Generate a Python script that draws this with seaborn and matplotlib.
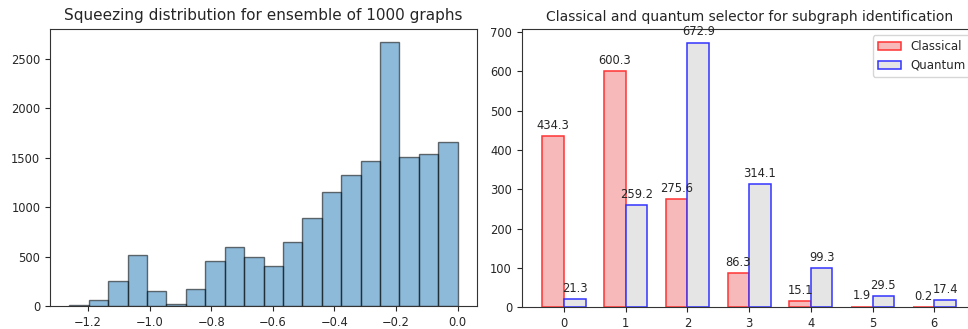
import numpy as np
import pandas as pd
import matplotlib
matplotlib.use("Agg")
import matplotlib.pyplot as plt
import seaborn as sns

# Left: histogram of squeezing values (bin edges and counts)
bin_edges = list(np.linspace(-1.26, 0.0, 21))
bin_counts = [10, 61, 253, 513, 149, 24, 176, 459, 601, 500,
              409, 642, 888, 1149, 1328, 1470, 2669, 1507, 1534, 1662]

# Right: grouped bars
categories = [0, 1, 2, 3, 4, 5, 6]
classical = [434.3, 600.3, 275.6, 86.3, 15.1, 1.9, 0.2]
quantum = [21.3, 259.2, 672.9, 314.1, 99.3, 29.5, 17.4]

sns.set_style("ticks")
plt.rcParams['font.family'] = ['DejaVu Sans']

fig = plt.figure(figsize=(9.68, 3.29), dpi=100)
ax1 = fig.add_axes([0.0517, 0.0699, 0.4411, 0.8429])
ax2 = fig.add_axes([0.539, 0.066, 0.4698, 0.845])

centers = [(bin_edges[i] + bin_edges[i + 1]) / 2 for i in range(len(bin_counts))]
hdf = pd.DataFrame({"x": centers, "w": bin_counts})
sns.histplot(data=hdf, x="x", weights="w", bins=bin_edges, ax=ax1,
             color="#1f77b4", alpha=0.5, edgecolor=(0, 0, 0, 0.55), linewidth=1.0)
ax1.set_xlabel("")
ax1.set_ylabel("")
ax1.set_title("Squeezing distribution for ensemble of 1000 graphs", fontsize=11)
ax1.set_xlim(-1.323, 0.063)
ax1.set_ylim(0, max(bin_counts) * 1.05)
ax1.set_xticks([-1.2, -1.0, -0.8, -0.6, -0.4, -0.2, 0.0])
ax1.set_xticklabels(["\u22121.2", "\u22121.0", "\u22120.8", "\u22120.6", "\u22120.4", "\u22120.2", "0.0"])
ax1.set_yticks([0, 500, 1000, 1500, 2000, 2500])
ax1.tick_params(labelsize=8.3)

bdf = pd.DataFrame({
    "cat": categories * 2,
    "val": classical + quantum,
    "kind": ["Classical"] * len(categories) + ["Quantum"] * len(categories),
})
sns.barplot(data=bdf, x="cat", y="val", hue="kind", ax=ax2, native_scale=True,
            width=0.7, gap=0,
            palette={"Classical": "#f7b9b9", "Quantum": "#e5e5e5"},
            saturation=1, legend=True)
edge_map = {"Classical": "#ff3333", "Quantum": "#3333ff"}
for cont, name in zip(ax2.containers, ["Classical", "Quantum"]):
    for bar in cont:
        bar.set_edgecolor(edge_map[name])
        bar.set_linewidth(1.1)
    for bar in cont:
        h = bar.get_height()
        ax2.annotate(f"{h}", xy=(bar.get_x() + bar.get_width() / 2, h),
                     xytext=(0, 3), textcoords="offset points",
                     ha="center", va="bottom", fontsize=8.3)
ax2.set_xlabel("")
ax2.set_ylabel("")
ax2.set_title("Classical and quantum selector for subgraph identification", fontsize=10)
ax2.set_xlim(-0.685, 6.685)
ax2.set_ylim(0, max(quantum) * 1.05)
ax2.set_xticks(categories)
ax2.set_yticks([0, 100, 200, 300, 400, 500, 600, 700])
ax2.tick_params(labelsize=8.3)
leg = ax2.legend(loc="upper right", fontsize=8.5, title=None)
for hnd, name in zip(leg.legend_handles, ["Classical", "Quantum"]):
    hnd.set_edgecolor(edge_map[name])
    hnd.set_linewidth(1.1)

for ax in (ax1, ax2):
    for s in ax.spines.values():
        s.set_visible(True)
        s.set_color("#333333")

fig.savefig("out.png", dpi=100)
